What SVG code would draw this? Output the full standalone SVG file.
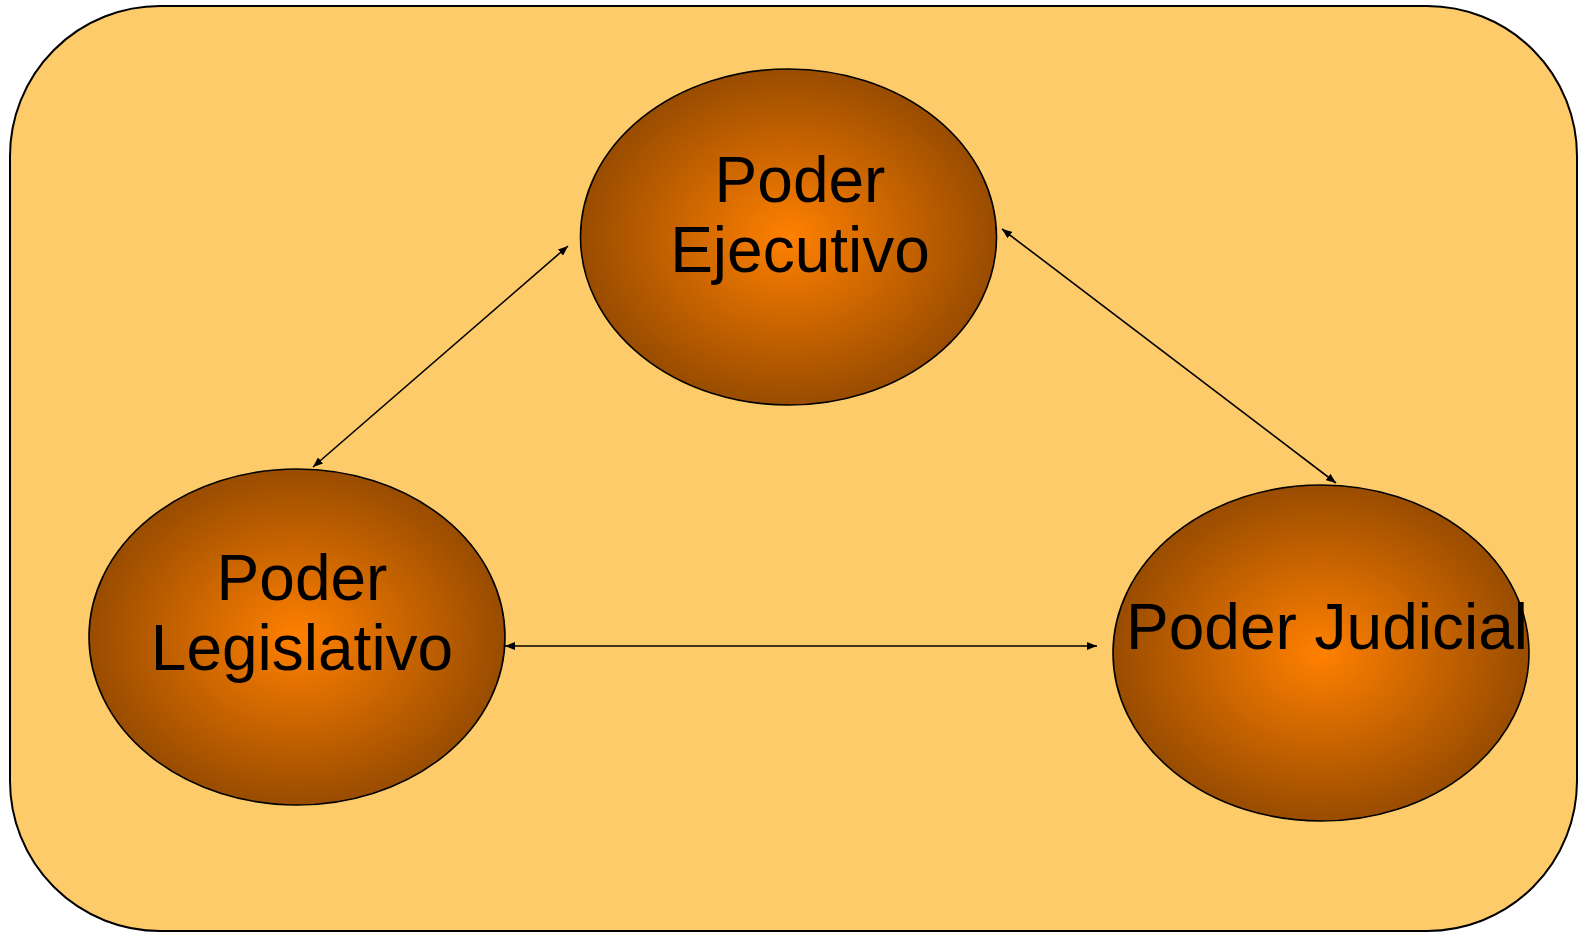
<svg xmlns="http://www.w3.org/2000/svg" width="1579" height="933" viewBox="0 0 1579 933">
<style>
.node{stroke:#000;stroke-width:1.6}
.lbl{font-family:"Liberation Sans",Arial,sans-serif;font-size:64px;fill:#000;text-anchor:middle}
.conn{stroke:#000;stroke-width:1.6;fill:none;marker-start:url(#arr);marker-end:url(#arr)}
</style>
<defs>
<radialGradient id="g" cx="50%" cy="50%" r="50%">
<stop offset="0" stop-color="#FF8000"/>
<stop offset="1" stop-color="#994C00"/>
</radialGradient>
<marker id="arr" viewBox="0 0 10 8" refX="10" refY="4" markerWidth="10" markerHeight="8" markerUnits="userSpaceOnUse" orient="auto-start-reverse">
<path d="M0,0 L10,4 L0,8 Z" fill="#000"/>
</marker>
</defs>
<g id="background">
<rect x="10" y="6" width="1567" height="925" rx="150" ry="150" fill="#FECB6A" stroke="#000" stroke-width="2"/>
</g>
<g id="connectors">
<line class="conn" x1="313" y1="467" x2="568" y2="246"/>
<line class="conn" x1="1002" y1="229" x2="1336" y2="483"/>
<line class="conn" x1="505" y1="646" x2="1097" y2="646"/>
</g>
<g id="ejecutivo">
<ellipse class="node" cx="788.5" cy="237" rx="208" ry="168" fill="url(#g)"/>
<text class="lbl" x="800" y="202">Poder</text>
<text class="lbl" x="800" y="272">Ejecutivo</text>
</g>
<g id="legislativo">
<ellipse class="node" cx="297" cy="637" rx="208" ry="168" fill="url(#g)"/>
<text class="lbl" x="302" y="600">Poder</text>
<text class="lbl" x="302" y="670">Legislativo</text>
</g>
<g id="judicial">
<ellipse class="node" cx="1321" cy="653" rx="208" ry="168" fill="url(#g)"/>
<text class="lbl" x="1327" y="649">Poder Judicial</text>
</g>
</svg>
